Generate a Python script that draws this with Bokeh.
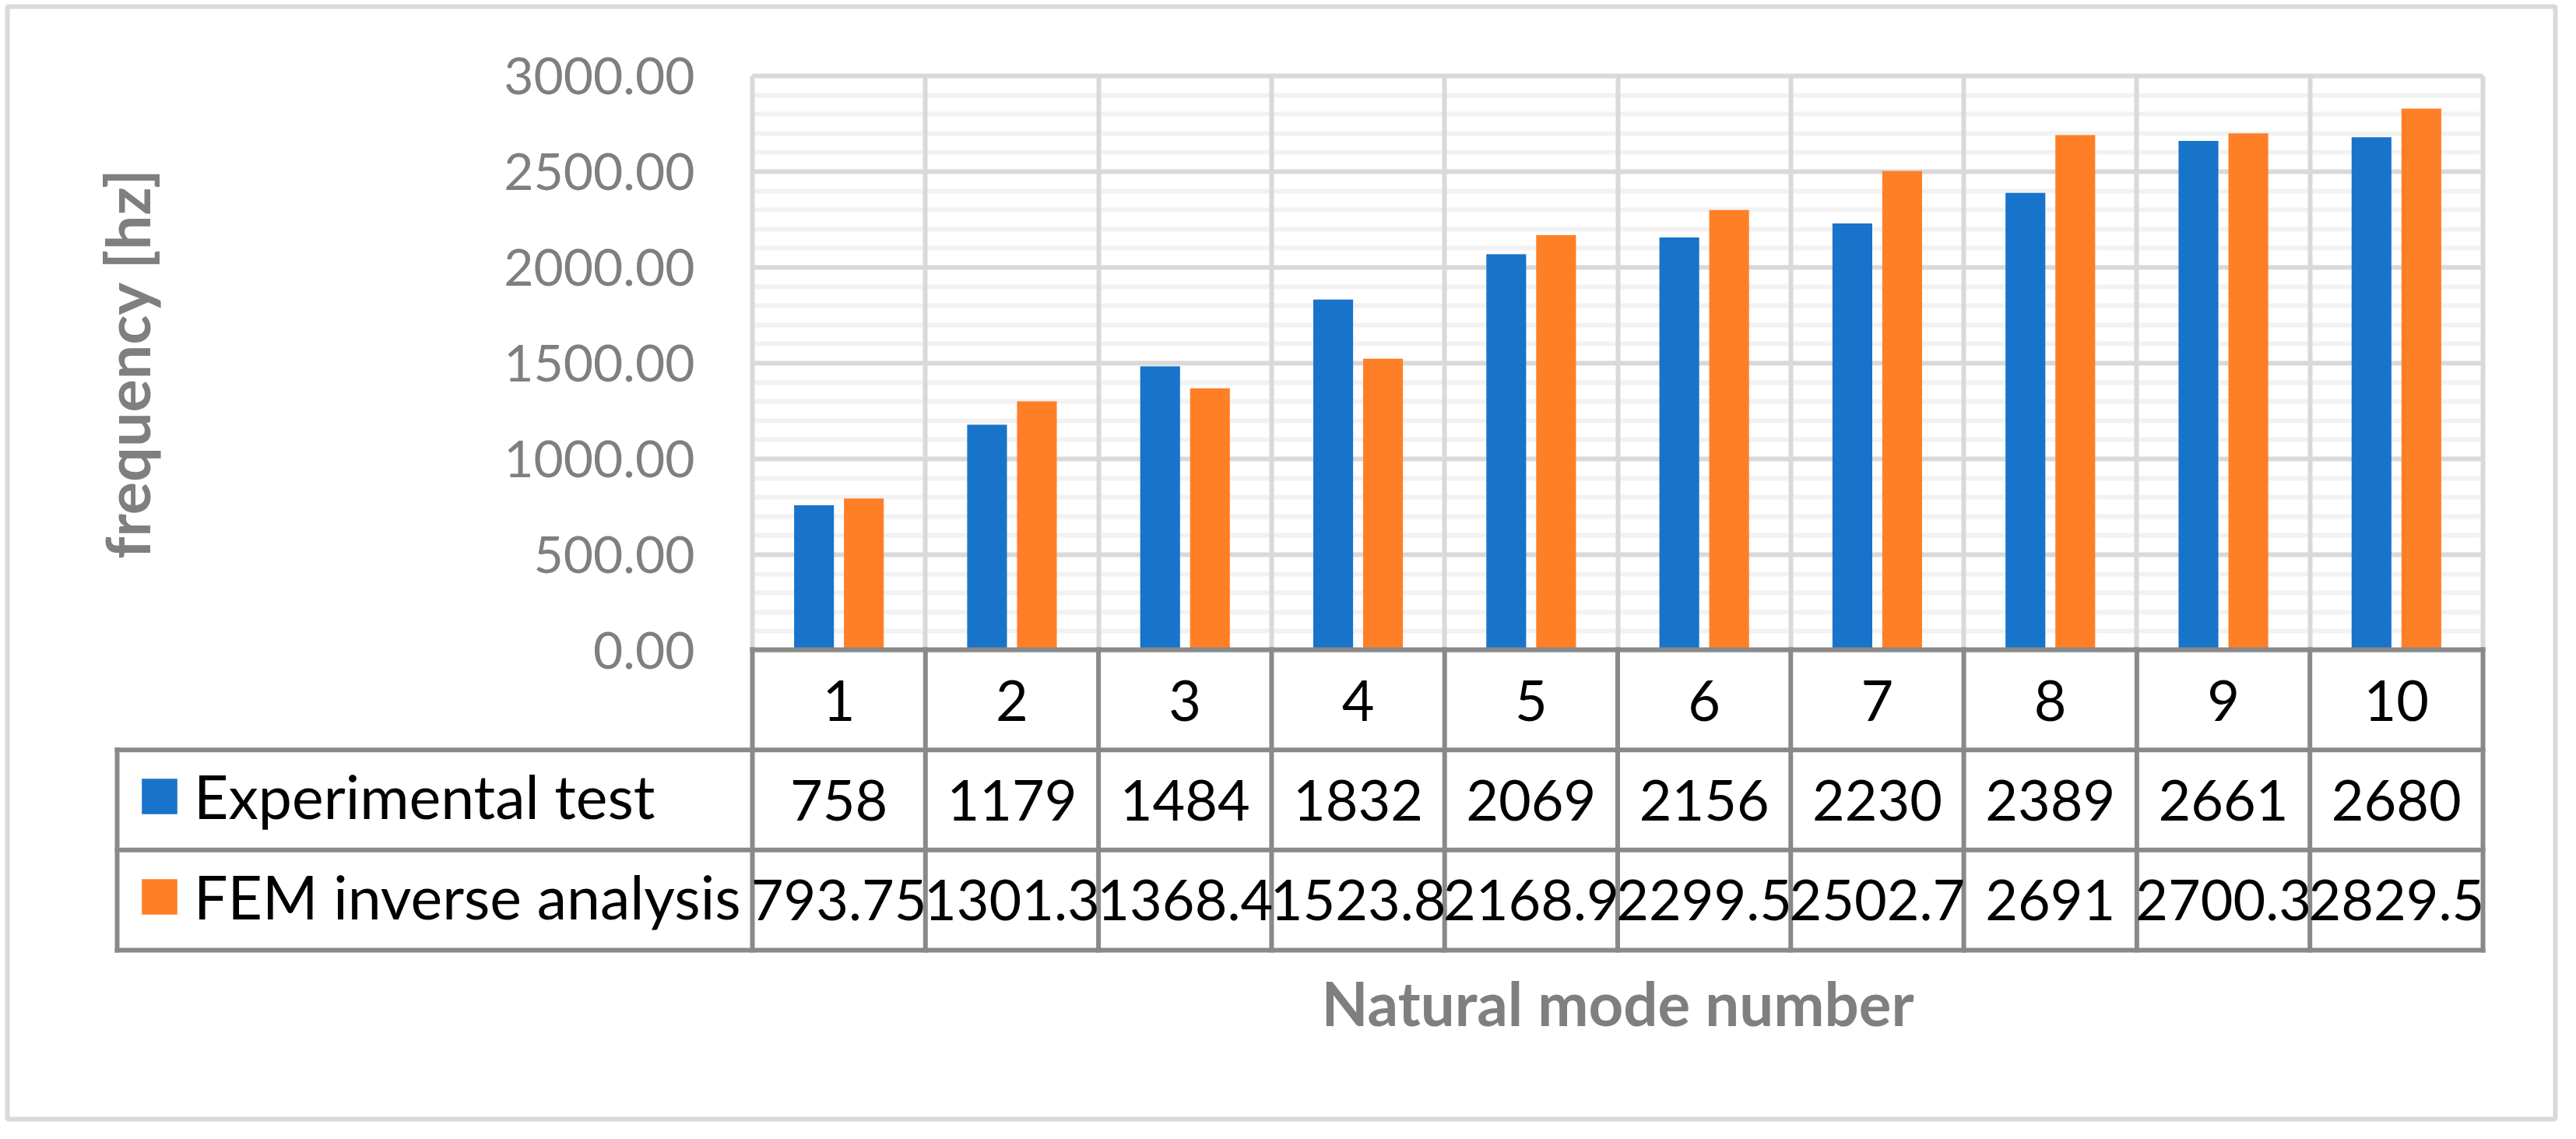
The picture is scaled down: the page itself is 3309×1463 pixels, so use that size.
from bokeh.plotting import figure
from bokeh.models import (ColumnDataSource, Range1d, LinearAxis, FixedTicker,
                          PrintfTickFormatter, Grid, Legend, LegendItem)
from bokeh.transform import dodge
from bokeh.embed import file_html
from bokeh.resources import INLINE

# ---------------- data ----------------
modes = [1, 2, 3, 4, 5, 6, 7, 8, 9, 10]
experimental = [758, 1179, 1484, 1832, 2069, 2156, 2230, 2389, 2661, 2680]
fem = [793.75, 1301.3, 1368.4, 1523.8, 2168.9, 2299.5, 2502.7, 2691, 2700.3, 2829.5]
series_names = ["Experimental test", "FEM inverse analysis"]
y_ticks = [0, 500, 1000, 1500, 2000, 2500, 3000]
x_title = "Natural mode number"
y_title = "frequency [hz]"

# ---------------- layout (page pixels) ----------------
W, H = 3293, 1447
FR_L, FR_R, FR_T, FR_B = 17, 3290, 16, 1445      # outer frame
PLOT_L, PLOT_R = 974, 3197                        # bar plot area
Y0_PX, YTOP_PX = 843, 105                         # y=0 and y=3000
T_TOP, T_BOT = 842, 1228                          # data table
LEG_L = 158                                       # legend column left

kx = (PLOT_R - PLOT_L) / 10.0
x_start = 0.5 - (PLOT_L - FR_L) / kx
x_end = 10.5 + (FR_R - PLOT_R) / kx
ky = (Y0_PX - YTOP_PX) / 3000.0
y_start = -(FR_B - Y0_PX) / ky
y_end = (Y0_PX - FR_T) / ky
rh = (T_BOT - T_TOP) / 3.0
t_start = -(FR_B - T_BOT) / rh
t_end = (T_BOT - FR_T) / rh
x_leg = 0.5 - (PLOT_L - LEG_L) / kx

BLUE = "#1874CA"
ORANGE = "#FF7F27"
GRID = "#D9D9D9"
MINOR = "#F2F2F2"
TABLE = "#898989"
GRAY_TXT = "#7F7F7F"
FONT = "Lato"

p = figure(width=W, height=H, output_backend="svg", toolbar_location=None,
           x_axis_location=None, y_axis_location=None, title=None,
           x_range=Range1d(x_start, x_end), y_range=Range1d(y_start, y_end),
           min_border_left=FR_L - 8, min_border_right=8 + W - FR_R,
           min_border_top=FR_T - 8, min_border_bottom=8 + H - FR_B)
# drop the default grids that figure() creates
p.center = [r for r in p.center if not isinstance(r, Grid)]
p.extra_y_ranges = {"table": Range1d(t_start, t_end)}
p.outline_line_color = GRID
p.outline_line_width = 6
p.background_fill_color = "white"
p.border_fill_color = "white"

src = ColumnDataSource(dict(
    mode=modes,
    exp=experimental,
    fem=fem,
    exp_lab=[f"{v:g}" for v in experimental],
    fem_lab=[f"{v:g}" for v in fem],
))

# ---------------- grids ----------------
boundaries = [m - 0.5 for m in modes] + [modes[-1] + 0.5]
y_minor = [v for v in range(100, 3000, 100) if v % 500 != 0]
try:
    ygrid = Grid(dimension=1, ticker=FixedTicker(ticks=y_ticks, minor_ticks=y_minor),
                 grid_line_color=GRID, grid_line_width=6,
                 minor_grid_line_color=MINOR, minor_grid_line_width=6,
                 cross_bounds=(0.5, 10.5))
    xgrid = Grid(dimension=0, ticker=FixedTicker(ticks=boundaries),
                 grid_line_color=GRID, grid_line_width=6, cross_bounds=(0, 3000))
    p.add_layout(ygrid)
    p.add_layout(xgrid)
except Exception:
    p.segment(x0=0.5, x1=10.5, y0=y_minor, y1=y_minor, line_color=MINOR, line_width=6)
    p.segment(x0=0.5, x1=10.5, y0=y_ticks, y1=y_ticks, line_color=GRID, line_width=6)
    p.segment(x0=boundaries, x1=boundaries, y0=0, y1=3000, line_color=GRID, line_width=6)

# ---------------- bars ----------------
r_exp = p.vbar(x=dodge("mode", -0.144), top="exp", width=0.23, bottom=0, source=src,
               fill_color=BLUE, line_color=None)
r_fem = p.vbar(x=dodge("mode", 0.144), top="fem", width=0.23, bottom=0, source=src,
               fill_color=ORANGE, line_color=None)

# ---------------- axes ----------------
yaxis = LinearAxis(fixed_location=0.5, bounds=(0, 3000),
                   ticker=FixedTicker(ticks=y_ticks), formatter=PrintfTickFormatter(format="%.2f"),
                   axis_line_color=None, major_tick_line_color=None, minor_tick_line_color=None,
                   major_tick_out=0, major_tick_in=0, minor_tick_out=0, minor_tick_in=0,
                   major_label_standoff=74, major_label_text_font=FONT,
                   major_label_text_font_size="66px", major_label_text_color=GRAY_TXT,
                   axis_label=y_title, axis_label_standoff=434, axis_label_text_font=FONT,
                   axis_label_text_font_style="bold", axis_label_text_font_size="79px",
                   axis_label_text_color=GRAY_TXT)
p.add_layout(yaxis, "left")

xaxis = LinearAxis(fixed_location=0, bounds=(0.5, 10.5),
                   ticker=FixedTicker(ticks=modes),
                   axis_line_color=None, major_tick_line_color=None, minor_tick_line_color=None,
                   major_tick_out=0, major_tick_in=0, minor_tick_out=0, minor_tick_in=0,
                   major_label_standoff=38, major_label_text_font=FONT,
                   major_label_text_font_size="72px", major_label_text_color="black",
                   axis_label=x_title, axis_label_standoff=312, axis_label_text_font=FONT,
                   axis_label_text_font_style="bold", axis_label_text_font_size="78px",
                   axis_label_text_color=GRAY_TXT)
p.add_layout(xaxis, "below")

# ---------------- data table ----------------
hx0 = [0.5, x_leg, x_leg, x_leg]
hx1 = [10.5, 10.5, 10.5, 10.5]
hy = [3, 2, 1, 0]
vx = boundaries + [x_leg]
vy0 = [0] * len(boundaries) + [0]
vy1 = [3] * len(boundaries) + [2]
p.segment(x0=hx0, x1=hx1, y0=hy, y1=hy, y_range_name="table",
          line_color=TABLE, line_width=6, line_cap="square")
p.segment(x0=vx, x1=vx, y0=vy0, y1=vy1, y_range_name="table",
          line_color=TABLE, line_width=6, line_cap="square")

p.text(x="mode", y=1.5, text="exp_lab", source=src, y_range_name="table",
       text_align="center", text_baseline="middle", text_font={"value": FONT},
       text_font_size="72px", text_color="black")
p.text(x="mode", y=0.5, text="fem_lab", source=src, y_range_name="table",
       text_align="center", text_baseline="middle", text_font={"value": FONT},
       text_font_size="72px", text_color="black")

legend = Legend(items=[LegendItem(label=series_names[0], renderers=[r_exp]),
                       LegendItem(label=series_names[1], renderers=[r_fem])],
                location=(167, 240), orientation="vertical",
                glyph_width=57, glyph_height=57, label_standoff=16,
                label_text_font=FONT, label_text_font_size="77px", label_text_color="black",
                spacing=37, padding=0, margin=0, border_line_color=None,
                background_fill_alpha=0)
p.add_layout(legend)

open("out.html", "w").write(file_html(p, INLINE))
